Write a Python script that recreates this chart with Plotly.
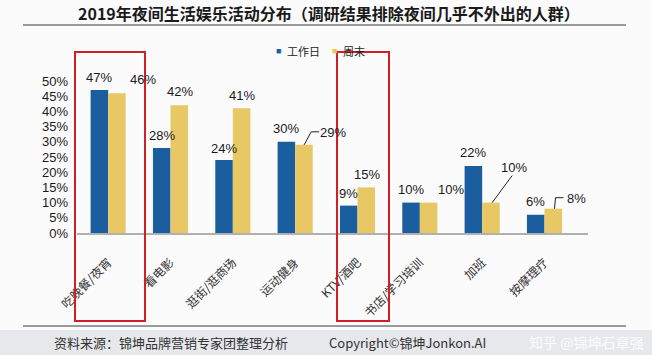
import plotly.graph_objects as go

categories = ["吃晚餐/夜宵", "看电影", "逛街/逛商场", "运动健身", "KTV/酒吧", "书店/学习培训", "加班", "按摩理疗"]
weekday = [47, 28, 24, 30, 9, 10, 22, 6]
weekend = [46, 42, 41, 29, 15, 10, 10, 8]
series_names = ["工作日", "周末"]
tick_vals = [0, 5, 10, 15, 20, 25, 30, 35, 40, 45, 50]
tick_text = [f"{v}%" for v in tick_vals]

title = "2019年夜间生活娱乐活动分布（调研结果排除夜间几乎不外出的人群）"
source = "资料来源：锦坤品牌营销专家团整理分析"
copyright_txt = "Copyright©锦坤Jonkon.AI"
watermark = "知乎 @锦坤石章强"

BLUE = "#1b5e9f"
YELLOW = "#e8c765"
W, H = 652, 355
L, R, T, B = 77, 64, 81, 122
PW, PH = W - L - R, H - T - B

def px(x):
    return (x - L) / PW

def py(y):
    return (H - B - y) / PH

CJK = "Noto Sans CJK SC"
NUM = "Arial, Liberation Sans, sans-serif"

fig = go.Figure()
fig.add_trace(go.Bar(x=categories, y=weekday, name=series_names[0], marker_color=BLUE, marker_line_width=0))
fig.add_trace(go.Bar(x=categories, y=weekend, name=series_names[1], marker_color=YELLOW, marker_line_width=0))

# label offsets (pixels): (dx from category centre, dy above bar top)
wd_off = [(-9, 13), (-9, 12), (-9, 12), (-9, 13), (-9, 12), (-9, 13), (-9, 14), (-9, 13)]
we_off = [(35, 14), (9, 14), (9, 13), (38, 12), (9, 13), (31, 13), (32, 35), (32, 10)]

anns = []
for c, v, (dx, dy) in zip(categories, weekday, wd_off):
    anns.append(dict(x=c, y=v, xref="x", yref="y", text=f"{v}%", showarrow=False,
                     xshift=dx, yshift=dy, yanchor="middle",
                     font=dict(family=NUM, size=13, color="#1a1a1a")))
for c, v, (dx, dy) in zip(categories, weekend, we_off):
    anns.append(dict(x=c, y=v, xref="x", yref="y", text=f"{v}%", showarrow=False,
                     xshift=dx, yshift=dy, yanchor="middle",
                     font=dict(family=NUM, size=13, color="#1a1a1a")))

# custom compact legend
for name, col, mx, tx in ((series_names[0], BLUE, 278, 285), (series_names[1], YELLOW, 334, 341)):
    anns.append(dict(x=px(mx), xref="paper", y=py(51), yref="paper", text="■", showarrow=False,
                     xanchor="center", yanchor="middle", font=dict(family=NUM, size=9, color=col)))
    anns.append(dict(x=px(tx), xref="paper", y=py(51), yref="paper", text=name, showarrow=False,
                     xanchor="left", yanchor="middle", font=dict(family=CJK, size=11, color="#222222")))

anns.append(dict(x=0.5, xref="paper", y=py(13), yref="paper", text=f"<b>{title}</b>",
                 showarrow=False, xanchor="center", yanchor="middle",
                 font=dict(family=CJK, size=16, color="#1a1a1a"), xshift=329 - (L + PW / 2)))
anns.append(dict(x=px(52), xref="paper", y=py(342), yref="paper", text=source,
                 showarrow=False, xanchor="left", yanchor="middle",
                 font=dict(family=CJK, size=13, color="#333333")))
anns.append(dict(x=px(327), xref="paper", y=py(342), yref="paper", text=copyright_txt,
                 showarrow=False, xanchor="left", yanchor="middle",
                 font=dict(family=CJK, size=13, color="#333333")))
anns.append(dict(x=px(645), xref="paper", y=py(342), yref="paper", text=watermark,
                 showarrow=False, xanchor="right", yanchor="middle",
                 font=dict(family=CJK, size=14, color="rgba(255,255,255,0.9)")))

shapes = []
# footer band
shapes.append(dict(type="rect", xref="paper", yref="paper", x0=px(0), x1=px(W), y0=py(330), y1=py(H),
                   fillcolor="#e6e8eb", line_width=0, layer="below"))
# rule lines
for yy in (25, 326):
    shapes.append(dict(type="line", xref="paper", yref="paper", x0=px(23), x1=px(626), y0=py(yy), y1=py(yy),
                       line=dict(color="#7a7a7a", width=1.5)))
# red highlight boxes
for x0, x1 in ((75, 145), (337, 389)):
    shapes.append(dict(type="rect", xref="paper", yref="paper", x0=px(x0), x1=px(x1), y0=py(321), y1=py(52),
                       line=dict(color="#d21f27", width=2), fillcolor="rgba(0,0,0,0)"))
# leader lines (pixel paths anchored at category centre / value)
leaders = [
    (categories[3], weekend[3], "M 9,0 L 16,13 L 24,13"),
    (categories[6], weekend[6], "M 10,0 L 30,27"),
    (categories[7], weekend[7], "M 10,0 L 11,11 L 19,11"),
]
for c, v, path in leaders:
    shapes.append(dict(type="path", xref="x", yref="y", xsizemode="pixel", ysizemode="pixel",
                       xanchor=c, yanchor=v, path=path, line=dict(color="#222222", width=1)))

fig.update_layout(
    width=W, height=H,
    margin=dict(l=L, r=R, t=T, b=B, pad=0),
    paper_bgcolor="#fbfbfc", plot_bgcolor="#fbfbfc",
    barmode="group", bargap=0.437, bargroupgap=0,
    showlegend=False,
    annotations=anns, shapes=shapes,
    xaxis=dict(showline=True, linecolor="#b0b0b0", linewidth=1.5, ticks="", tickangle=-45,
               ticklabelstandoff=16,
               tickfont=dict(family=CJK, size=12, color="#333333"), showgrid=False, zeroline=False),
    yaxis=dict(range=[0, 50], tickvals=tick_vals, ticktext=tick_text, showgrid=False, zeroline=False,
               showline=False, ticks="", ticklabelstandoff=8,
               tickfont=dict(family=NUM, size=13, color="#1a1a1a")),
)

fig.write_html("out.html", config={"displayModeBar": False},
               post_script="document.body.style.margin='0';document.body.style.padding='0';")
